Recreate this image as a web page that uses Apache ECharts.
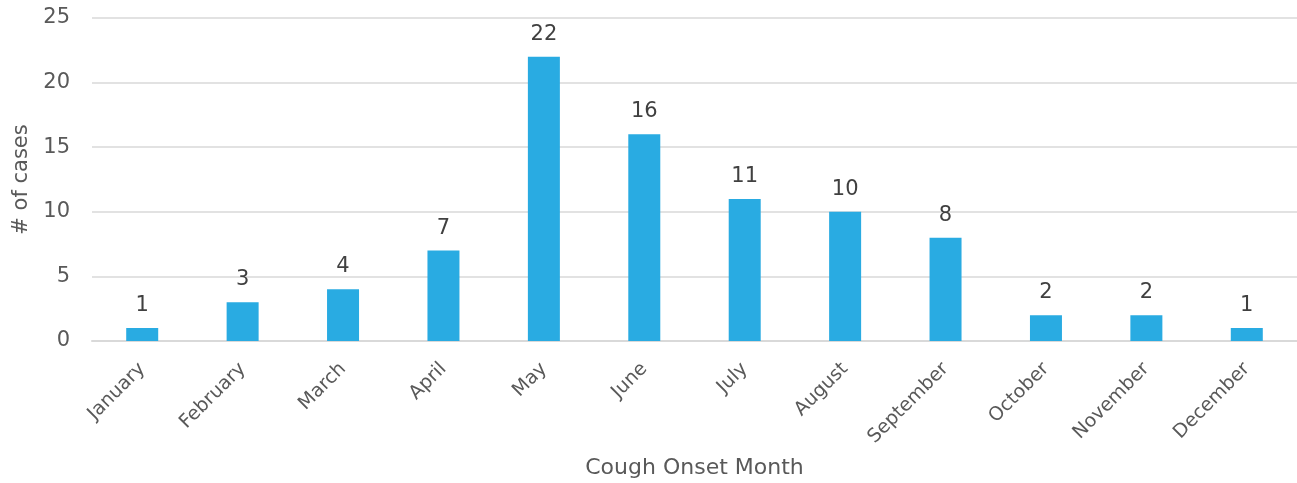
<!DOCTYPE html>
<html><head><meta charset="utf-8">
<script src="https://cdn.jsdelivr.net/npm/echarts@6/dist/echarts.min.js"></script>
<style>html,body{margin:0;padding:0;background:#fff}#c{width:1297px;height:483px}</style>
</head><body><div id="c"></div>
<script>
var categories = ['January','February','March','April','May','June','July','August','September','October','November','December'];
var cases = [1,3,4,7,22,16,11,10,8,2,2,1];
var yTicks = [0,5,10,15,20,25];
var font = '"DejaVu Sans", "Liberation Sans", sans-serif';
var chart = echarts.init(document.getElementById('c'));
chart.setOption({
  animation:false,
  grid:{left:92,right:0,top:18,bottom:142,containLabel:false,outerBoundsMode:'none'},
  xAxis:{type:'category',data:categories,
    axisLine:{lineStyle:{color:'#d9d9d9',width:2}},axisTick:{show:false},
    axisLabel:{rotate:45,color:'#595959',fontSize:19,fontFamily:font,margin:25,interval:0},
    name:'Cough Onset Month',nameLocation:'middle',nameGap:116,
    nameTextStyle:{color:'#595959',fontSize:22,fontFamily:font}},
  yAxis:{type:'value',min:yTicks[0],max:yTicks[yTicks.length-1],interval:5,
    axisLine:{show:false},axisTick:{show:false},
    splitLine:{lineStyle:{color:'#d9d9d9',width:1.5}},
    axisLabel:{color:'#595959',fontSize:21,fontFamily:font,margin:22},
    name:'# of cases',nameLocation:'middle',nameGap:60,
    nameTextStyle:{color:'#595959',fontSize:21,fontFamily:font}},
  series:[{type:'bar',data:cases,barWidth:32,itemStyle:{color:'#29ABE2'},
    label:{show:true,position:'top',distance:12,color:'#404040',fontSize:21,fontFamily:font}}]
});
</script></body></html>
